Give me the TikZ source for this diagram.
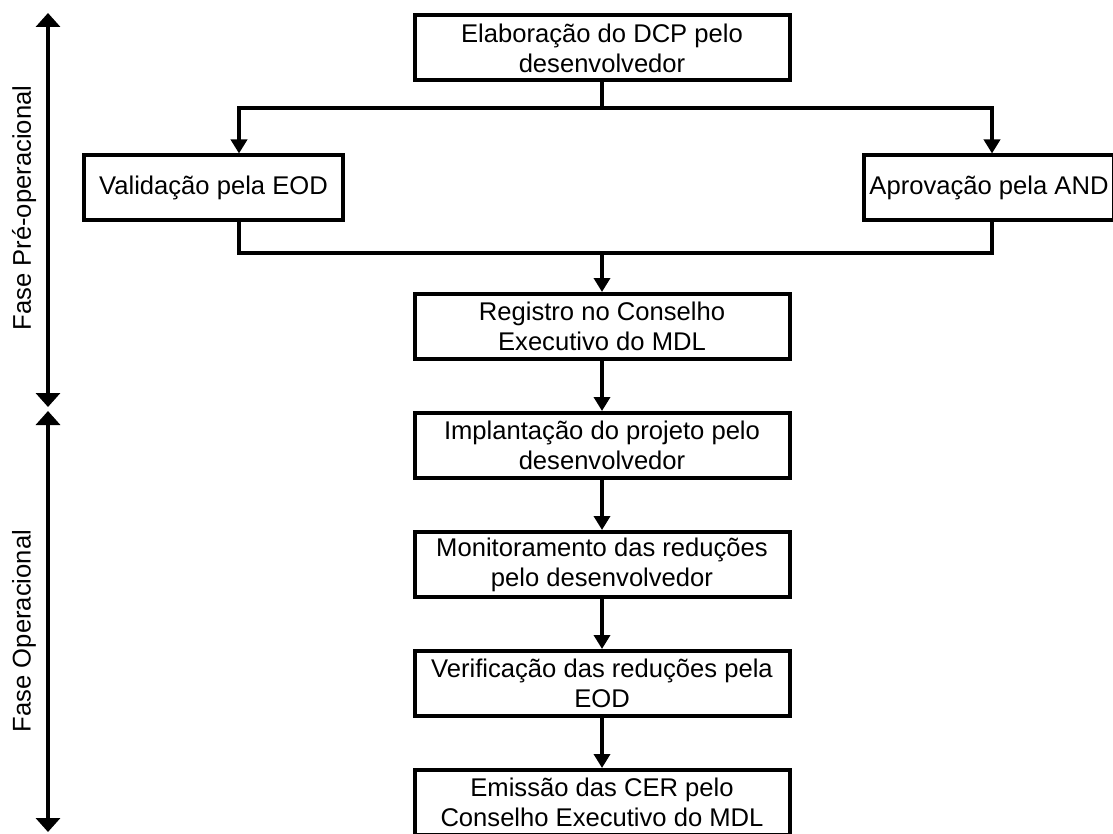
\documentclass[tikz,border=0pt]{standalone}
\usepackage{fontspec}
\setmainfont{Liberation Sans}
\usetikzlibrary{arrows.meta, positioning}

\begin{document}
\begin{tikzpicture}[x=0.5pt, y=-0.5pt,
      node distance=25pt,
      box/.style = {draw, line width=2pt, minimum width=187.5pt, minimum height=32.5pt, align=center, inner sep=2pt, font=\fontsize{12.8}{15}\selectfont},
      ln/.style = {line width=2pt},
      ar/.style = {ln, -{Triangle[width=8pt, length=7pt]}},
      phase/.style = {ln, {Triangle[width=12pt, length=7pt]}-{Triangle[width=12pt, length=7pt]}},
      lbl/.style = {rotate=90, font=\fontsize{12.8}{15}\selectfont} ]
    \useasboundingbox (0,0) rectangle (1113,834);
    \node[box] (dcp) at (602,48) {Elaboração do DCP pelo\\desenvolvedor};
    \node[box, minimum width=129.5pt] (eod) at (213.5,188) {Validação pela EOD};
    \node[box, minimum width=125pt] (and) at (989,188) {Aprovação pela AND};
    \node[box] (reg) at (602,326.5) {Registro no Conselho\\Executivo do MDL};
    \node[box, below=of reg] (imp) {Implantação do projeto pelo\\desenvolvedor};
    \node[box, below=of imp] (mon) {Monitoramento das reduções\\pelo desenvolvedor};
    \node[box, below=of mon] (ver) {Verificação das reduções pela\\EOD};
    \node[box, below=of ver] (cer) {Emissão das CER pelo\\Conselho Executivo do MDL};
    % ramificacao
    \coordinate (top) at (602,108);  \coordinate (bot) at (602,253);
    \coordinate (bl) at (239,0);  \coordinate (br) at (992,0);
    \draw[ar] (dcp.south) -- (top) -| (eod.north -| bl);
    \draw[ar] (top) -| (and.north -| br);
    \draw[ln] (eod.south -| bl) |- (bot);  \draw[ln] (and.south -| br) |- (bot);
    \draw[ar] (bot) -- (reg.north);
    \foreach \a/\b in {reg/imp, imp/mon, mon/ver, ver/cer}
      \draw[ar] (\a) -- (\b);
    % fases
    \coordinate (p1) at (48,13);  \coordinate (p2) at (48,407);
    \coordinate (p3) at (48,411);  \coordinate (p4) at (48,832);
    \draw[phase] (p1) -- (p2);  \draw[phase] (p3) -- (p4);
    \node[lbl] (pre) at (24,208) {Fase Pré-operacional};
    \node[lbl] (ope) at (24,631) {Fase Operacional};
  \end{tikzpicture}
\end{document}
